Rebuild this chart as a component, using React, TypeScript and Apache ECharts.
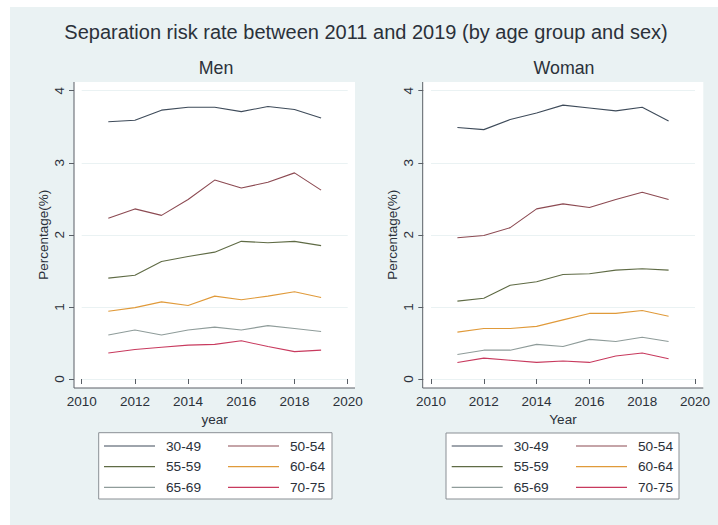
import React, { useEffect, useRef } from "react";
import * as echarts from "echarts";

const years = [2011, 2012, 2013, 2014, 2015, 2016, 2017, 2018, 2019];
const ageGroups = ["30-49", "50-54", "55-59", "60-64", "65-69", "70-75"];
const colors = ["#3E4B5A", "#8C4A52", "#5F6B45", "#E09A3A", "#8F9C9A", "#C83A5E"];

const men3049 = [3.57, 3.59, 3.73, 3.77, 3.77, 3.71, 3.78, 3.74, 3.62];
const men5054 = [2.23, 2.36, 2.27, 2.49, 2.76, 2.65, 2.73, 2.86, 2.62];
const men5559 = [1.40, 1.44, 1.63, 1.70, 1.76, 1.91, 1.89, 1.91, 1.85];
const men6064 = [0.94, 0.99, 1.07, 1.02, 1.15, 1.10, 1.15, 1.21, 1.13];
const men6569 = [0.61, 0.68, 0.61, 0.68, 0.72, 0.68, 0.74, 0.70, 0.66];
const men7075 = [0.36, 0.41, 0.44, 0.47, 0.48, 0.53, 0.45, 0.38, 0.40];

const women3049 = [3.49, 3.46, 3.60, 3.69, 3.80, 3.76, 3.72, 3.77, 3.58];
const women5054 = [1.96, 1.99, 2.10, 2.36, 2.43, 2.38, 2.49, 2.59, 2.49];
const women5559 = [1.08, 1.12, 1.30, 1.35, 1.45, 1.46, 1.51, 1.53, 1.51];
const women6064 = [0.65, 0.70, 0.70, 0.73, 0.82, 0.91, 0.91, 0.95, 0.87];
const women6569 = [0.34, 0.40, 0.40, 0.48, 0.45, 0.55, 0.52, 0.58, 0.52];
const women7075 = [0.23, 0.29, 0.26, 0.23, 0.25, 0.23, 0.32, 0.36, 0.28];

const menSeries = [men3049, men5054, men5559, men6064, men6569, men7075];
const womenSeries = [women3049, women5054, women5559, women6064, women6569, women7075];

const yTicks = { min: 0, max: 4, interval: 1 };
const xTicks = { min: 2010, max: 2020, interval: 2 };

const FONT = "'Liberation Sans', Arial, Helvetica, sans-serif";
const TEXT = "#2b313a";
const AXIS = "#5a5f66";
const BG = "#EAF2F3";

export default function App() {
  const ref = useRef<HTMLDivElement>(null);

  useEffect(() => {
    document.body.style.margin = "0";
    if (!ref.current) return;
    const chart = echarts.init(ref.current, null, { renderer: "svg" });

    const panels = [
      { plot: [74, 82, 281, 306], grid: { left: 81.7, top: 90.7, width: 266, height: 288.3 }, xName: "year", legendBox: [98.7, 432.7, 233.3, 66.3], legCols: [104, 228], data: menSeries },
      { plot: [422.7, 82, 280.6, 306], grid: { left: 431, top: 90.7, width: 264, height: 288.3 }, xName: "Year", legendBox: [446, 433, 233, 66], legCols: [451.7, 576], data: womenSeries },
    ];

    const graphic: any[] = [
      { type: "rect", z: -20, shape: { x: 10, y: 7, width: 708, height: 518 }, style: { fill: BG } },
    ];
    panels.forEach((p) => {
      const [x, y, w, h] = p.plot;
      graphic.push({ type: "rect", z: -10, shape: { x, y, width: w, height: h }, style: { fill: "#ffffff" } });
      graphic.push({ type: "line", z: 10, shape: { x1: x, y1: y, x2: x, y2: y + h }, style: { stroke: AXIS, lineWidth: 1 } });
      graphic.push({ type: "line", z: 10, shape: { x1: x, y1: y + h, x2: x + w, y2: y + h }, style: { stroke: AXIS, lineWidth: 1 } });
      const [lx, ly, lw, lh] = p.legendBox;
      graphic.push({ type: "rect", z: -5, shape: { x: lx, y: ly, width: lw, height: lh }, style: { fill: "#ffffff", stroke: "#8a8f94", lineWidth: 1 } });
    });

    const grids = panels.map((p) => ({ ...p.grid, containLabel: false }));

    const xAxes = panels.map((p, i) => ({
      type: "value",
      gridIndex: i,
      min: xTicks.min,
      max: xTicks.max,
      interval: xTicks.interval,
      offset: 9,
      name: p.xName,
      nameLocation: "middle",
      nameGap: 20,
      nameTextStyle: { fontFamily: FONT, fontSize: 13.5, color: TEXT },
      axisLine: { show: false },
      axisTick: { show: true, length: 5, lineStyle: { color: AXIS } },
      axisLabel: { fontFamily: FONT, fontSize: 13.5, color: TEXT, margin: 6, formatter: (v: number) => String(v) },
      splitLine: { show: false },
    }));

    const yAxes = panels.map((p, i) => ({
      type: "value",
      gridIndex: i,
      min: yTicks.min,
      max: yTicks.max,
      interval: yTicks.interval,
      offset: 7.7,
      name: "Percentage(%)",
      nameLocation: "middle",
      nameGap: 24,
      nameTextStyle: { fontFamily: FONT, fontSize: 13.5, color: TEXT },
      axisLine: { show: false },
      axisTick: { show: true, length: 5, lineStyle: { color: AXIS } },
      axisLabel: { fontFamily: FONT, fontSize: 13.5, color: TEXT, rotate: 90, margin: 8 },
      splitLine: { show: true, lineStyle: { color: BG, width: 1 } },
    }));

    const series: any[] = [];
    panels.forEach((p, pi) => {
      p.data.forEach((vals, si) => {
        series.push({
          type: "line",
          name: ageGroups[si],
          xAxisIndex: pi,
          yAxisIndex: pi,
          symbol: "none",
          data: years.map((yr, k) => [yr, vals[k]]),
          lineStyle: { color: colors[si], width: 1.1 },
          itemStyle: { color: colors[si] },
          z: 3,
        });
      });
    });

    const legends: any[] = [];
    panels.forEach((p) => {
      [0, 1].forEach((c) => {
        legends.push({
          orient: "vertical",
          left: p.legCols[c],
          top: 439,
          padding: 0,
          icon: "rect",
          itemWidth: 51,
          itemHeight: 1.2,
          itemGap: 6.7,
          z: 6,
          data: ageGroups.filter((_, k) => k % 2 === c),
          textStyle: { fontFamily: FONT, fontSize: 13.7, color: TEXT, lineHeight: 14, padding: [0, 0, 0, 6] },
        });
      });
    });

    chart.setOption({
      animation: false,
      color: colors,
      title: [
        { text: "Separation risk rate between 2011 and 2019 (by age group and sex)", left: 366, top: 22, textAlign: "center", padding: 0, textStyle: { fontFamily: FONT, fontSize: 20, fontWeight: "normal", color: TEXT } },
        { text: "Men", left: 216, top: 59, textAlign: "center", padding: 0, textStyle: { fontFamily: FONT, fontSize: 17.8, fontWeight: "normal", color: TEXT } },
        { text: "Woman", left: 564, top: 59, textAlign: "center", padding: 0, textStyle: { fontFamily: FONT, fontSize: 17.8, fontWeight: "normal", color: TEXT } },
      ],
      graphic,
      grid: grids,
      xAxis: xAxes,
      yAxis: yAxes,
      legend: legends,
      series,
    });

    return () => chart.dispose();
  }, []);

  return <div ref={ref} style={{ width: 718, height: 525 }} />;
}
